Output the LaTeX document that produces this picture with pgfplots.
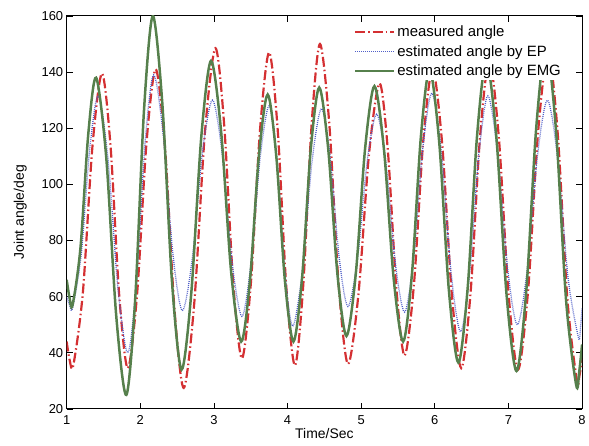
\documentclass[border=0pt]{standalone}
\usepackage{fontspec}
\setmainfont{Liberation Sans}
\usepackage{pgfplots}
\pgfplotsset{compat=1.18}

\definecolor{measred}{RGB}{212,48,50}
\definecolor{epblue}{RGB}{80,95,200}
\definecolor{emggreen}{RGB}{86,128,76}

\begin{document}
\begin{tikzpicture}
 \begin{axis}[
        name=ax,
        scale only axis,
        width=518pt,
        height=395pt,
        xmin=1, xmax=8,
        ymin=20, ymax=160,
        xtick={1,2,...,8},
        ytick={20,40,...,160},
        tick align=inside,
        major tick length=6pt,
        axis line style={line width=1pt},
        every tick/.style={black, line width=0.8pt},
        /pgf/number format/assume math mode=true,
        tick label style={font=\fontsize{13}{15}\selectfont},
        xticklabel style={yshift=-3pt},
        xlabel={Time/Sec},
        ylabel={Joint angle/deg},
        label style={font=\fontsize{14}{16}\selectfont},
        xlabel style={yshift=3pt},
        ylabel style={yshift=8pt},
        legend cell align=left,
        legend style={at={(rel axis cs:0.965,0.982)}, anchor=north east,
          draw=none, fill=white, font=\fontsize{15}{17}\selectfont,
          row sep=3pt, inner sep=1pt,
          nodes={inner sep=2pt}},
        legend image code/.code={\draw[#1] (0pt,0pt) -- (39pt,0pt);},
  ]
  % measured angle
  \addplot [measred, line width=2.2pt, smooth,
            dash pattern=on 10pt off 3pt on 1.5pt off 3pt] coordinates {
    (1.00,44) (1.04,37.5) (1.09,35.5)
    (1.22,61.5) (1.35,113.5) (1.48,139.5)
    (1.597,113.25) (1.713,60.75) (1.83,34.5)
    (1.957,61.1) (2.083,114.4) (2.21,141)
    (2.337,112.6) (2.463,55.9) (2.59,27.5)
    (2.733,57.75) (2.877,118.25) (3.02,148.5)
    (3.14,120.9) (3.26,65.6) (3.38,38)
    (3.503,65.25) (3.627,119.75) (3.75,147)
    (3.867,119.1) (3.983,63.4) (4.10,35.5)
    (4.213,64.1) (4.327,121.4) (4.44,150)
    (4.567,121.5) (4.693,64.5) (4.82,36)
    (4.963,61) (5.107,111) (5.25,136)
    (5.363,111.75) (5.477,63.25) (5.59,39)
    (5.717,64.5) (5.843,115.5) (5.97,141)
    (6.10,114.4) (6.23,61.1) (6.36,34.5)
    (6.487,61.9) (6.613,116.6) (6.74,144)
    (6.87,116.5) (7.00,61.5) (7.13,34)
    (7.267,62.25) (7.403,118.75) (7.54,147)
    (7.67,117.75) (7.80,59.25) (7.93,30)
    (7.965,32) (8.00,38)
  };
  % estimated by EP
  \addplot [epblue, line width=1.3pt, smooth,
            dash pattern=on 0.9pt off 1.1pt] coordinates {
    (1.00,60) (1.04,57) (1.08,56)
    (1.197,74.9) (1.313,112.6) (1.43,131.5)
    (1.563,108.6) (1.697,62.9) (1.83,40)
    (1.947,64.75) (2.063,114.25) (2.18,139)
    (2.31,118) (2.44,76) (2.57,55)
    (2.707,73.75) (2.843,111.25) (2.98,130)
    (3.113,110.75) (3.247,72.25) (3.38,53)
    (3.503,71.75) (3.627,109.25) (3.75,128)
    (3.857,108.4) (3.963,69.1) (4.07,49.5)
    (4.20,68.9) (4.33,107.6) (4.46,127)
    (4.58,109.4) (4.70,74.1) (4.82,56.5)
    (4.95,73.6) (5.08,107.9) (5.21,125)
    (5.337,107.4) (5.463,72.1) (5.59,54.5)
    (5.713,74) (5.837,113) (5.96,132.5)
    (6.09,111.25) (6.22,68.75) (6.35,47.5)
    (6.473,68.5) (6.597,110.5) (6.72,131.5)
    (6.853,111.1) (6.987,70.4) (7.12,50)
    (7.257,70) (7.393,110) (7.53,130)
    (7.67,108.9) (7.81,66.6) (7.95,45.5)
    (7.975,48) (8.00,56)
  };
  % estimated by EMG
  \addplot [emggreen, line width=2.5pt, smooth] coordinates {
    (1.00,66) (1.04,59.5) (1.08,57)
    (1.187,77.25) (1.293,117.75) (1.40,138)
    (1.537,109.75) (1.673,53.25) (1.81,25)
    (1.93,58.75) (2.05,126.25) (2.17,160)
    (2.30,128.5) (2.43,65.5) (2.56,34)
    (2.693,61.5) (2.827,116.5) (2.96,144)
    (3.097,119) (3.233,69) (3.37,44)
    (3.49,66) (3.61,110) (3.73,132)
    (3.847,110) (3.963,66) (4.08,44)
    (4.197,66.6) (4.313,111.9) (4.43,134.5)
    (4.553,112.4) (4.677,68.1) (4.80,46)
    (4.927,68.25) (5.053,112.75) (5.18,135)
    (5.31,112.25) (5.44,66.75) (5.57,44)
    (5.69,68.25) (5.81,116.75) (5.93,141)
    (6.06,114.9) (6.19,62.6) (6.32,36.5)
    (6.447,63.4) (6.573,117.1) (6.70,144)
    (6.837,116.4) (6.973,61.1) (7.11,33.5)
    (7.243,62.4) (7.377,120.1) (7.51,149)
    (7.647,118.9) (7.783,58.6) (7.92,28.5)
    (7.96,33) (8.00,43)
  };
  \legend{measured angle, estimated angle by EP, estimated angle by EMG}
 \end{axis}
 \path ([xshift=-67pt,yshift=-37pt]ax.south west) rectangle ([xshift=4pt,yshift=16pt]ax.north east);
\end{tikzpicture}
\end{document}
